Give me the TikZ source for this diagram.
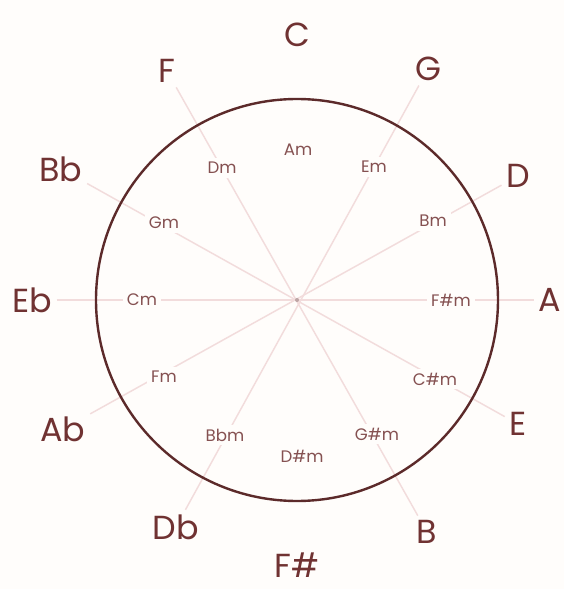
\documentclass[tikz,border=0pt]{standalone}
\usepackage{fontspec}
\setmainfont{Poppins}
\usetikzlibrary{backgrounds}
\definecolor{wine}{RGB}{112,50,50}
\definecolor{rimcol}{RGB}{92,42,42}
\definecolor{spokecol}{RGB}{242,220,220}
\definecolor{hubcol}{RGB}{190,165,165}
\definecolor{paper}{RGB}{255,253,251}

\begin{document}
\begin{tikzpicture}[
  x=0.75pt, y=0.75pt,
  major/.style={text=wine, font=\fontsize{25}{30}\selectfont},
  minor/.style={text=wine!85, fill=paper, inner sep=3pt, font=\fontsize{12.5}{14}\selectfont},
  spoke/.style={draw=spokecol, line width=1.1pt},
  ring/.style={draw=rimcol, line width=1.8pt}
]
\useasboundingbox (-297,-289) rectangle (267,300);
\coordinate (ctr) at (0,0);
% major keys
\node[major] (C) at (0,265) {C};
\node[major] (G) at (131,231) {G};
\node[major] (D) at (221,124) {D};
\node[major] (A) at (253,0) {A};
\node[major] (E) at (221,-124) {E};
\node[major] (B) at (130,-232) {B};
\node[major] (Fs) at (0,-265) {F\#};
\node[major] (Db) at (-121,-227) {Db};
\node[major] (Ab) at (-234,-129) {Ab};
\node[major] (Eb) at (-265,0) {Eb};
\node[major] (Bb) at (-236,131) {Bb};
\node[major] (F) at (-130,229) {F};
% minor keys
\node[minor] (Am) at (1,150) {Am};
\node[minor] (Em) at (77,133) {Em};
\node[minor] (Bm) at (136,79) {Bm};
\node[minor] (Fsm) at (154,0) {F\#m};
\node[minor] (Csm) at (138,-79) {C\#m};
\node[minor] (Gsm) at (80,-134) {G\#m};
\node[minor] (Dsm) at (5,-156) {D\#m};
\node[minor] (Bbm) at (-72,-135) {Bbm};
\node[minor] (Fm) at (-133,-77) {Fm};
\node[minor] (Cm) at (-155,0) {Cm};
\node[minor] (Gm) at (-133,77) {Gm};
\node[minor] (Dm) at (-75,132) {Dm};
% ring
\draw[ring] (ctr) circle (201);
% spokes
\begin{scope}[on background layer]
\fill[paper] (-297,-289) rectangle (267,300);
\draw[spoke] (F) -- (B);
\draw[spoke] (G) -- (Db);
\draw[spoke] (D) -- (Ab);
\draw[spoke] (Bb) -- (E);
\draw[spoke] (Eb) -- (A);
\fill[hubcol] (ctr) circle (2);
\end{scope}
\end{tikzpicture}
\end{document}
